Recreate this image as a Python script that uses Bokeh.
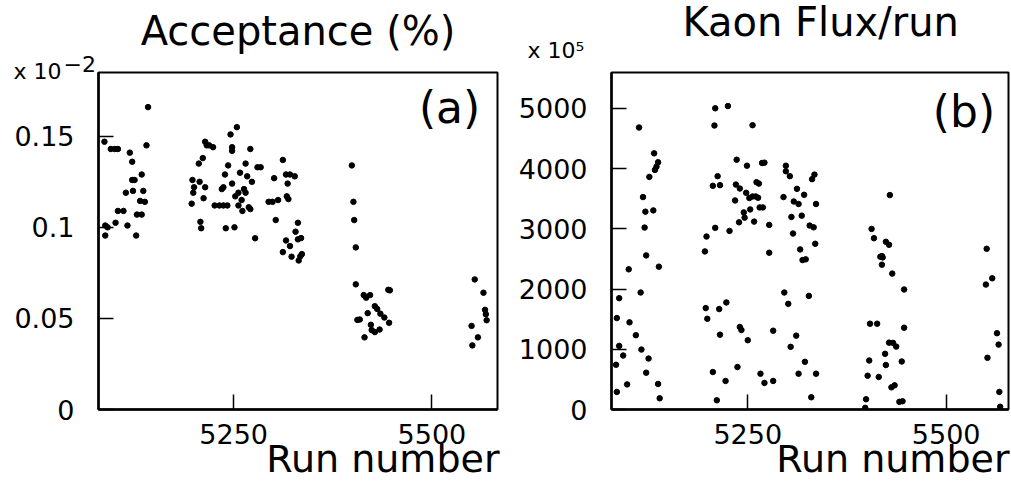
from bokeh.plotting import figure
from bokeh.layouts import row
from bokeh.models import FixedTicker, Range1d, Title, Label
from bokeh.embed import file_html
from bokeh.resources import INLINE

FONT = "DejaVu Sans"

# ---------------- data ----------------
# (a) Acceptance (%), in units of 1e-2
acc_run = [5142, 5087, 5095, 5100, 5104, 5119, 5122, 5140, 5134, 5122, 5125, 5114, 5123, 5136,
           5132, 5138, 5104, 5111, 5128, 5134, 5088, 5091, 5088, 5101, 5116, 5127,
           5198, 5207, 5200, 5199, 5214, 5197, 5212, 5206, 5211, 5214, 5216, 5219, 5224, 5208,
           5209, 5226, 5232, 5237, 5242, 5240, 5251, 5235, 5237, 5239, 5243, 5246, 5254, 5248,
           5248, 5248, 5252, 5256, 5260, 5263, 5265, 5258, 5265, 5271, 5267, 5273, 5256, 5261,
           5269, 5271, 5277, 5280, 5284, 5301, 5294, 5299, 5306, 5303, 5312, 5316, 5321, 5327,
           5318, 5317, 5319, 5331, 5328, 5331, 5335, 5316, 5321, 5312, 5323, 5336, 5334, 5332,
           5399, 5401, 5402, 5404, 5404, 5414, 5417, 5422, 5445, 5447, 5406, 5409, 5419, 5428,
           5431, 5435, 5440, 5446, 5423, 5424, 5428, 5434, 5415,
           5554, 5565, 5567, 5568, 5569, 5550, 5558, 5551]
acc_val = [0.166, 0.147, 0.143, 0.143, 0.143, 0.141, 0.136, 0.145, 0.129, 0.126, 0.126, 0.119, 0.120, 0.120,
           0.1145, 0.114, 0.109, 0.109, 0.107, 0.107, 0.101, 0.100, 0.0955, 0.1025, 0.101, 0.0955,
           0.126, 0.125, 0.122, 0.119, 0.122, 0.113, 0.116, 0.135, 0.138, 0.147, 0.145, 0.145, 0.144, 0.103,
           0.0995, 0.112, 0.112, 0.112, 0.112, 0.0995, 0.100, 0.121, 0.122, 0.129, 0.134, 0.151, 0.155, 0.144,
           0.142, 0.124, 0.117, 0.119, 0.115, 0.121, 0.119, 0.130, 0.135, 0.143, 0.128, 0.125, 0.112, 0.109,
           0.111, 0.110, 0.094, 0.133, 0.133, 0.127, 0.114, 0.114, 0.115, 0.104, 0.137, 0.129, 0.129, 0.128,
           0.124, 0.117, 0.1155, 0.1025, 0.0976, 0.0934, 0.0941, 0.0928, 0.0897, 0.0864, 0.0839, 0.0853, 0.0841, 0.0818,
           0.134, 0.114, 0.104, 0.089, 0.0687, 0.0628, 0.0614, 0.0628, 0.0657, 0.0654, 0.0492, 0.0494, 0.0529, 0.0567,
           0.0552, 0.0526, 0.0505, 0.0476, 0.0465, 0.0436, 0.0425, 0.0439, 0.0396,
           0.0714, 0.0641, 0.0547, 0.0523, 0.049, 0.0459, 0.0396, 0.0352]

# (b) Kaon flux per run, in units of 1e5
flux_run = [5113, 5209, 5225, 5208, 5256, 5132, 5137, 5135, 5133, 5126, 5118, 5121, 5131, 5120,
            5122, 5236, 5249, 5268, 5271, 5212, 5206, 5215, 5235, 5240, 5261, 5264, 5248, 5234,
            5252, 5256, 5260, 5263, 5245, 5253, 5265, 5269, 5246, 5239, 5258, 5209, 5227, 5198,
            5196, 5277, 5277, 5298, 5298, 5303, 5312, 5295, 5308, 5314, 5321, 5305, 5318, 5307,
            5316, 5334, 5331, 5336, 5328, 5333, 5335, 5429, 5406, 5409, 5424, 5428, 5419, 5551,
            5138, 5100, 5115, 5088, 5085, 5101, 5109, 5088, 5116, 5093, 5084, 5125, 5122, 5098,
            5137, 5085, 5139, 5197, 5199, 5214, 5223, 5215, 5240, 5242, 5250, 5206, 5222, 5237,
            5211, 5296, 5301, 5282, 5311, 5304, 5266, 5271, 5282, 5314, 5319, 5323, 5327, 5322,
            5336, 5330, 5417, 5420, 5419, 5432, 5447, 5404, 5413, 5447, 5428, 5433, 5437, 5423,
            5424, 5444, 5403, 5401, 5415, 5431, 5435, 5399, 5398, 5441, 5445, 5558, 5550, 5564,
            5566, 5552, 5567, 5568]
flux_val = [4681, 5000, 5037, 4714, 4719, 4252, 4104, 4031, 3977, 3861, 3526, 3284, 3305, 3020,
            2558, 4146, 4047, 4092, 4097, 3873, 3713, 3724, 3734, 3668, 3774, 3750, 3597, 3470,
            3510, 3536, 3536, 3515, 3272, 3321, 3354, 3354, 3185, 3107, 3119, 3015, 2965, 2871,
            2624, 3064, 2602, 4047, 3955, 3873, 3663, 3526, 3453, 3411, 3564, 3196, 3218, 2921,
            2657, 3899, 3823, 3411, 3053, 3024, 2751, 3559, 2998, 2843, 2784, 2734, 2546, 2668,
            2371, 2327, 1942, 1848, 1518, 1447, 1233, 1056, 995, 896, 743, 846, 611, 417,
            424, 292, 186, 1683, 1506, 1667, 1777, 1242, 1370, 1320, 1150, 622, 474, 705,
            153, 1942, 1754, 1308, 1226, 1040, 594, 441, 474, 594, 2480, 2492, 1886, 792,
            594, 203, 2536, 2525, 2404, 2256, 1992, 1424, 1424, 1358, 1110, 1106, 1044, 924,
            738, 797, 813, 561, 540, 368, 401, 170, 28, 127, 137, 2178, 2074, 1266,
            1077, 858, 292, 45]

run_ticks = [5250, 5500]
acc_ticks = [0, 0.05, 0.1, 0.15]
acc_tick_labels = ["0", "0.05", "0.1", "0.15"]
flux_ticks = [0, 1000, 2000, 3000, 4000, 5000]
flux_tick_labels = ["0", "1000", "2000", "3000", "4000", "5000"]


def style(p, yticks, ylabels):
    p.outline_line_color = "black"
    p.outline_line_width = 2
    p.xgrid.visible = False
    p.ygrid.visible = False
    for ax in (p.xaxis[0], p.yaxis[0]):
        ax.axis_line_width = 2.5
        ax.axis_line_color = "black"
        ax.major_tick_in = 15
        ax.major_tick_out = 0
        ax.major_tick_line_width = 1.5
        ax.major_tick_line_color = "black"
        ax.minor_tick_line_color = None
        ax.major_label_text_font = FONT
        ax.major_label_text_font_size = "27px"
        ax.major_label_text_color = "black"
    p.xaxis.ticker = FixedTicker(ticks=run_ticks)
    p.yaxis.ticker = FixedTicker(ticks=yticks)
    p.yaxis.major_label_overrides = {t: l for t, l in zip(yticks, ylabels)}
    p.xaxis.major_label_standoff = 14
    p.yaxis.major_label_standoff = 24


def title(p, side, text, size, align, offset, valign, standoff):
    p.add_layout(Title(text=text, align=align, offset=offset, vertical_align=valign,
                       standoff=standoff, text_font=FONT, text_font_size=size,
                       text_font_style="normal", text_color="black"), side)


def tag(p, x, y, text):
    p.add_layout(Label(x=x, y=y, text=text, text_font=FONT, text_font_size="44px",
                       text_align="center", text_baseline="alphabetic", text_color="black"))


p1 = figure(width=505, height=489, x_range=Range1d(5079.5, 5582.7), y_range=Range1d(0, 0.185),
            min_border_left=98, min_border_right=8, min_border_top=70, min_border_bottom=80,
            output_backend="svg", toolbar_location=None, title=None)
style(p1, acc_ticks, acc_tick_labels)
p1.scatter(acc_run, acc_val, size=5.5, color="black", marker="circle")
# "above" items: the first one is nearest to the frame
title(p1, "above", "x 10", "22px", "left", -85, "bottom", -22)
title(p1, "above", "\u22122", "22px", "left", -35, "bottom", -8)
title(p1, "above", "Acceptance (%)", "40px", "center", 0, "bottom", 7)
title(p1, "below", "Run number", "38px", "right", -2, "top", -19)
tag(p1, 5522.2, 0.166, "(a)")

p2 = figure(width=505, height=489, x_range=Range1d(5078.3, 5578.5), y_range=Range1d(0, 5594),
            min_border_left=106, min_border_right=2, min_border_top=72, min_border_bottom=78,
            output_backend="svg", toolbar_location=None, title=None)
style(p2, flux_ticks, flux_tick_labels)
p2.scatter(flux_run, flux_val, size=5.5, color="black", marker="circle")
title(p2, "above", "x 10\u2075", "22px", "left", -84, "bottom", 19)
title(p2, "above", "Kaon Flux/run", "40px", "left", 71, "bottom", -36)
title(p2, "below", "Run number", "38px", "right", -1, "top", -19)
tag(p2, 5522.4, 4951, "(b)")

layout = row(p1, p2)
open("out.html", "w").write(file_html(layout, INLINE))
